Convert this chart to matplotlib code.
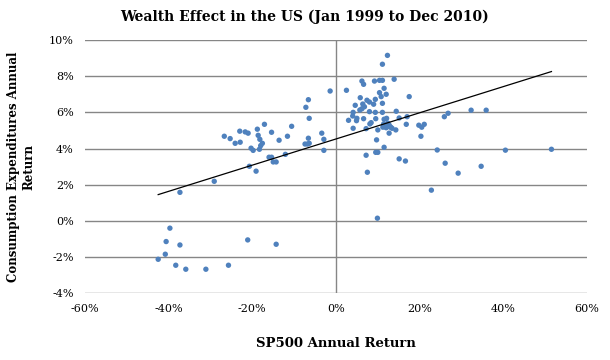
import numpy as np
import matplotlib
matplotlib.use("Agg")
import matplotlib.pyplot as plt
from matplotlib.ticker import FuncFormatter

# SP500 annual return (%) and consumption expenditures annual return (%)
sp500 = [
    -39.7, -40.6, -37.3, -40.8, -42.5, -38.3, -35.9, -31.1, -25.7, -21.1, -14.3,
    -37.3, -29.1, -26.7, -25.3, -24.1, -23.0, -22.9, -21.7, -21.0, -18.8, -17.1,
    -18.6, -18.2, -17.6, -18.0, -20.3, -19.8, -18.3, -15.4, -13.6, -11.6, -10.6,
    -16.0, -15.4, -15.0, -14.3, -12.1, -20.7, -19.1,
    -7.2, -6.6, -6.4, -3.4, -2.9, -2.9, -7.4, -6.8, -6.4, -6.6, -1.4, 2.5,
    12.3, 11.1, 6.2, 6.6, 9.2, 10.4, 11.1, 13.9, 11.5, 10.4, 12.0, 10.8, 17.5,
    5.8, 7.4, 8.0, 9.4, 9.0, 11.1, 4.6, 6.4, 6.2, 5.7, 4.1, 8.0, 9.4, 11.1, 14.4,
    4.0, 3.0, 5.0, 4.9, 6.6, 9.5, 11.5, 12.1, 15.1, 17.0, 8.4, 8.1, 11.4, 12.4,
    12.7, 12.0, 13.1, 11.2, 10.0, 14.3, 7.2, 4.1, 12.7, 16.8, 19.8, 20.5, 21.1,
    20.3, 25.9, 26.8, 32.3, 35.9,
    9.7, 11.5, 9.5, 10.0, 7.2, 15.1, 16.6, 24.2, 26.1, 29.2, 34.7, 40.5, 51.5,
    7.5, 22.8, 9.9,
    13.4, 6.8, 12.8,
]
consumption = [
    -0.40, -1.14, -1.33, -1.84, -2.12, -2.45, -2.67, -2.67, -2.45, -1.05, -1.29,
    1.58, 2.19, 4.68, 4.55, 4.29, 4.96, 4.35, 4.92, 4.85, 5.07, 5.34,
    4.73, 4.51, 4.29, 4.16, 4.02, 3.90, 3.96, 4.90, 4.46, 4.68, 5.23,
    3.52, 3.52, 3.26, 3.26, 3.68, 3.02, 2.75,
    6.28, 6.70, 5.67, 4.85, 4.51, 3.90, 4.25, 4.25, 4.29, 4.57, 7.18, 7.22,
    9.15, 8.66, 7.73, 7.55, 7.73, 7.77, 7.77, 7.83, 7.33, 7.09, 7.00, 6.87, 6.87,
    6.81, 6.67, 6.57, 6.72, 6.45, 6.50, 6.39, 6.46, 6.20, 6.13, 6.00, 6.04, 6.00, 6.00, 6.06,
    5.80, 5.56, 5.67, 5.54, 5.65, 5.65, 5.62, 5.67, 5.69, 5.76, 5.43, 5.36, 5.36, 5.40,
    5.30, 5.15, 5.18, 5.18, 5.03, 5.03, 5.10, 5.12, 4.85, 5.34, 5.29, 5.18, 5.34,
    4.68, 5.76, 5.95, 6.12, 6.12,
    4.48, 4.07, 3.79, 3.79, 3.63, 3.43, 3.31, 3.92, 3.19, 2.64, 3.02, 3.91, 3.96,
    2.69, 1.70, 0.15,
    5.12, 6.31, 5.21,
]

x = np.array(sp500) / 100.0
y = np.array(consumption) / 100.0

# linear trendline over the data range
slope, intercept = np.polyfit(x, y, 1)
tx = np.array([x.min(), x.max()])

fig = plt.figure(figsize=(6.1, 3.6), dpi=100)
ax = fig.add_axes([0.1393, 0.1853, 0.823, 0.7036])

ax.scatter(x, y, s=15, color="#4F81BD", edgecolors="none", zorder=3)
ax.plot(tx, slope * tx + intercept, color="black", linewidth=0.9, zorder=4)

ax.set_xlim(-0.6, 0.6)
ax.set_ylim(-0.04, 0.10)
ax.set_xticks(np.arange(-0.6, 0.61, 0.2))
ax.set_yticks(np.arange(-0.04, 0.101, 0.02))
pct = FuncFormatter(lambda v, _: f"{v * 100:.0f}%")
ax.xaxis.set_major_formatter(pct)
ax.yaxis.set_major_formatter(pct)

for spine in ax.spines.values():
    spine.set_visible(False)
ax.yaxis.grid(True, color="#868686", linewidth=1)
ax.set_axisbelow(True)
ax.axvline(0, color="#868686", linewidth=1, zorder=1)
ax.tick_params(length=0, pad=8)
for lbl in ax.get_xticklabels() + ax.get_yticklabels():
    lbl.set_family("DejaVu Serif")
    lbl.set_fontsize(8)

# title centred on the whole figure, like the Excel chart
fig.text(0.5, 1 - 17 / 360, "Wealth Effect in the US (Jan 1999 to Dec 2010)",
         ha="center", va="center", fontsize=10, fontweight="bold",
         family="DejaVu Serif")
ax.set_xlabel("SP500 Annual Return", fontsize=9.5, fontweight="bold",
              family="DejaVu Serif", labelpad=16)
ax.set_ylabel("Consumption Expenditures Annual\nReturn", fontsize=8.5,
              fontweight="bold", family="DejaVu Serif", labelpad=10)

fig.savefig("out.png", dpi=100)
plt.close(fig)
